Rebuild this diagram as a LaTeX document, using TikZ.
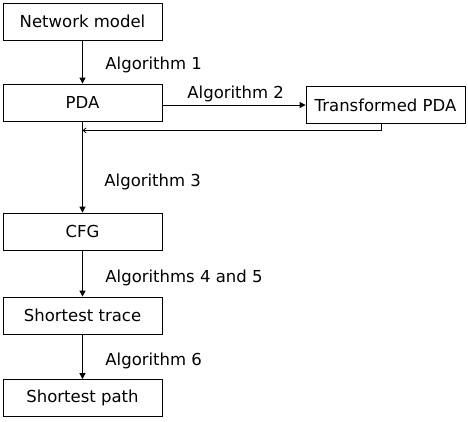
\documentclass[tikz,border=0pt]{standalone}
\usepackage{fontspec}
\setmainfont{DejaVu Sans}
\usetikzlibrary{arrows.meta, positioning}

\begin{document}
\begin{tikzpicture}[x=1pt, y=-1pt, >={Triangle[length=6pt, width=6pt]}, line width=0.8pt]
                \tikzset{stage/.style={draw, minimum width=159pt, minimum height=37pt, inner sep=0pt, font=\fontsize{16.5}{19}\selectfont},
                         algo/.style={anchor=base west, inner sep=0pt, font=\fontsize{16.5}{19}\selectfont}};
                \useasboundingbox (0, 0) rectangle (468, 421);
                \node[stage] (net) at (82.5, 21.5) {Network model};
                \node[stage] (pda) at (82.5, 102.5) {PDA};
                \node[stage] (tpda) at (385.5, 105) {Transformed PDA};
                \node[stage] (cfg) at (82.5, 231.5) {CFG};
                \node[stage] (trace) at (82.5, 315.5) {Shortest trace};
                \node[stage] (path) at (82.5, 398) {Shortest path};
                \node[algo] (alg1) at (105, 69) {Algorithm 1};
                \node[algo] (alg2) at (187, 98) {Algorithm 2};
                \node[algo] (alg3) at (104, 186) {Algorithm 3};
                \node[algo] (alg45) at (105, 282) {Algorithms 4 and 5};
                \node[algo] (alg6) at (105, 365) {Algorithm 6};
                \coordinate[below=9pt of pda.south] (back);
                \draw[->] (net) -- (pda);
                \draw[->] (pda.east |- tpda.west) -- (tpda.west);
                \draw[-{Straight Barb[length=3pt, width=5pt]}] ([xshift=-4pt]tpda.south) |- (back);
                \draw[->] (pda) -- (cfg);
                \draw[->] (cfg) -- (trace);
                \draw[->] (trace) -- (path);
            \end{tikzpicture}
\end{document}
